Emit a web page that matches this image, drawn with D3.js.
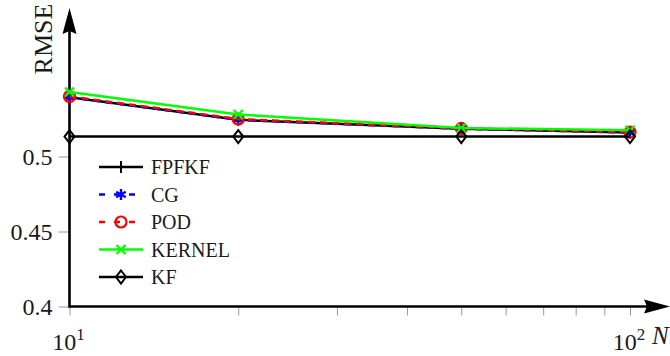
<!DOCTYPE html>
<html>
<head>
<meta charset="utf-8">
<script src="https://cdn.jsdelivr.net/npm/d3@7"></script>
<style>
  html, body { margin: 0; padding: 0; background: #fff; }
  svg { display: block; }
  text { font-family: "Liberation Serif", "DejaVu Serif", serif; fill: #1a1a1a; }
</style>
</head>
<body>
<svg id="chart" width="670" height="356"></svg>
<script>
// Number of samples N (log axis)
const sampleSizes = [10, 20, 50, 100];

// RMSE for each filter
const fpfkf  = [0.5395, 0.5245, 0.5185, 0.5160];
const cg     = [0.5395, 0.5245, 0.5185, 0.5160];
const pod    = [0.5400, 0.5250, 0.5188, 0.5163];
const kernel = [0.5430, 0.5280, 0.5190, 0.5175];
const kf     = [0.5133, 0.5133, 0.5133, 0.5133];

const yTicks = [0.4, 0.45, 0.5];
const yTickLabels = ["0.4", "0.45", "0.5"];
const xMinorTicks = [20, 30, 40, 50, 60, 70, 80, 90];

const series = [
  { name: "FPFKF",  values: fpfkf,  color: "#000000", dash: null,  mark: "plus" },
  { name: "CG",     values: cg,     color: "#0000ff", dash: "7,5", mark: "asterisk" },
  { name: "POD",    values: pod,    color: "#ff0000", dash: "7,5", mark: "circle" },
  { name: "KERNEL", values: kernel, color: "#00ff00", dash: null,  mark: "cross" },
  { name: "KF",     values: kf,     color: "#000000", dash: null,  mark: "diamond" }
];

const svg = d3.select("#chart");

const x = d3.scaleLog().domain([10, 100]).range([69.5, 630]);
const y = d3.scaleLinear().domain([0.4, 0.6]).range([306.5, 6.5]);
const x0 = x(10), y0 = y(0.4);

// ticks
const xAxis = d3.axisBottom(x).tickValues([10].concat(xMinorTicks, [100]))
  .tickSize(9).tickFormat(() => "");
const gx = svg.append("g").attr("transform", `translate(0,${y0})`).call(xAxis);
gx.select(".domain").remove();
gx.selectAll(".tick line").attr("stroke", "#999").attr("stroke-width", 1);

const yAxis = d3.axisLeft(y).tickValues(yTicks).tickSize(11).tickPadding(6)
  .tickFormat((d, i) => yTickLabels[i]);
const gy = svg.append("g").attr("transform", `translate(${x0},0)`).call(yAxis);
gy.select(".domain").remove();
gy.selectAll(".tick line").attr("stroke", "#999").attr("stroke-width", 1);
gy.selectAll(".tick text").attr("font-size", 24).attr("dy", "0.33em");

// axis lines with arrow heads
svg.append("line").attr("x1", x0).attr("x2", 650).attr("y1", y0).attr("y2", y0)
  .attr("stroke", "#000").attr("stroke-width", 2.6);
svg.append("path").attr("d", `M670,${y0} L644,${y0 - 7} L647,${y0} L644,${y0 + 7} Z`).attr("fill", "#000");
svg.append("line").attr("x1", x0).attr("x2", x0).attr("y1", y0 + 1.3).attr("y2", 28)
  .attr("stroke", "#000").attr("stroke-width", 2.6);
svg.append("path").attr("d", `M${x0},8 L${x0 - 7},34 L${x0},31 L${x0 + 7},34 Z`).attr("fill", "#000");

// x labels
function powerLabel(xv, exp) {
  const t = svg.append("text").attr("x", x(xv) - 1).attr("y", 350)
    .attr("text-anchor", "middle").attr("font-size", 24);
  t.append("tspan").text("10");
  t.append("tspan").attr("font-size", 17).attr("dy", -10).text(exp);
}
powerLabel(10, "1");
powerLabel(100, "2");
svg.append("text").attr("x", 652).attr("y", 344).attr("font-size", 25)
  .attr("font-style", "italic").text("N");

svg.append("text").attr("transform", "translate(52,39) rotate(-90)")
  .attr("text-anchor", "middle").attr("font-size", 26).text("RMSE");

// markers
function drawMark(g, kind, cx, cy, color) {
  const sw = 2;
  if (kind === "plus") {
    g.append("path").attr("d", `M${cx - 6},${cy}H${cx + 6}M${cx},${cy - 6}V${cy + 6}`)
      .attr("stroke", color).attr("stroke-width", sw).attr("fill", "none");
  } else if (kind === "asterisk") {
    const r = 5.5, p = [];
    for (let k = 0; k < 3; k++) {
      const a = Math.PI / 2 + k * Math.PI / 3;
      p.push(`M${cx - r * Math.cos(a)},${cy - r * Math.sin(a)}L${cx + r * Math.cos(a)},${cy + r * Math.sin(a)}`);
    }
    g.append("path").attr("d", p.join("")).attr("stroke", color).attr("stroke-width", 2.4).attr("fill", "none");
  } else if (kind === "circle") {
    g.append("circle").attr("cx", cx).attr("cy", cy).attr("r", 5.5)
      .attr("stroke", color).attr("stroke-width", 2.2).attr("fill", "none");
  } else if (kind === "cross") {
    const r = 4.5;
    g.append("path").attr("d", `M${cx - r},${cy - r}L${cx + r},${cy + r}M${cx - r},${cy + r}L${cx + r},${cy - r}`)
      .attr("stroke", color).attr("stroke-width", 2.2).attr("fill", "none");
  } else if (kind === "diamond") {
    g.append("path").attr("d", `M${cx},${cy - 6.5}L${cx + 5},${cy}L${cx},${cy + 6.5}L${cx - 5},${cy}Z`)
      .attr("stroke", color).attr("stroke-width", 2).attr("fill", "none");
  }
}

const line = d3.line().x(d => x(d[0])).y(d => y(d[1]));
series.forEach(s => {
  const pts = sampleSizes.map((n, i) => [n, s.values[i]]);
  const g = svg.append("g");
  g.append("path").datum(pts).attr("d", line).attr("fill", "none")
    .attr("stroke", s.color).attr("stroke-width", 2.5)
    .attr("stroke-dasharray", s.dash);
  pts.forEach(p => drawMark(g, s.mark, x(p[0]), y(p[1]), s.color));
});

// legend
const legend = svg.append("g");
series.forEach((s, i) => {
  const ly = 167 + i * 27.5;
  legend.append("line").attr("x1", 99).attr("x2", 143).attr("y1", ly).attr("y2", ly)
    .attr("stroke", s.color).attr("stroke-width", 2.5)
    .attr("stroke-dasharray", s.dash ? "6,9" : null);
  drawMark(legend, s.mark, 121, ly, s.color);
  legend.append("text").attr("x", 151).attr("y", ly + 7).attr("font-size", 20).text(s.name);
});
</script>
</body>
</html>
